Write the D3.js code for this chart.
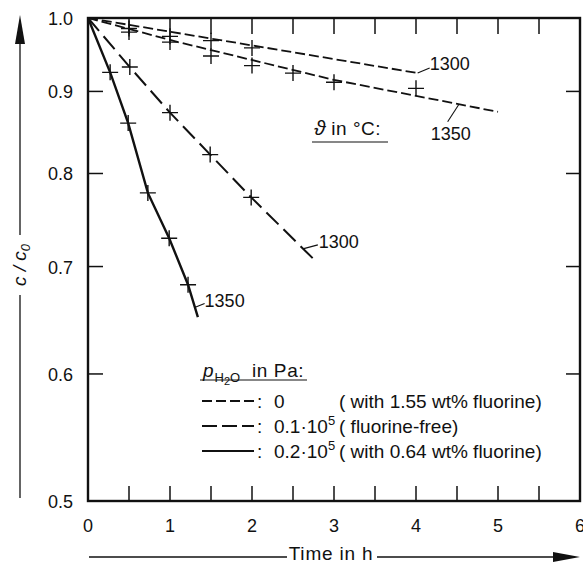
<!DOCTYPE html>
<html><head><meta charset="utf-8">
<script src="https://cdn.jsdelivr.net/npm/d3@7"></script>
<style>body{margin:0;background:#fff}svg{display:block}text{font-family:"Liberation Sans",Arial,sans-serif;fill:#111}</style>
</head><body><svg id="c" width="583" height="563"></svg>
<script>
// ---- data ----
const xTicks = [0,1,2,3,4,5,6];
const xMinorTicks = [0,0.5,1,1.5,2,2.5,3,3.5,4,4.5,5,5.5,6];
const yTicks = [0.5,0.6,0.7,0.8,0.9,1.0];
// p=0 (1.55 wt% F), 1300 °C
const dry1300Line = [[0,1.0],[4.02,0.924]];
const dry1300Pts  = [[0.5,0.985],[1,0.974],[1.5,0.968],[2,0.958]];
// p=0 (1.55 wt% F), 1350 °C
const dry1350Line = [[0,1.0],[1.1,0.966],[3,0.915],[5,0.874]];
const dry1350Pts  = [[0.5,0.980],[1,0.966],[1.5,0.947],[2,0.934],[2.5,0.924],[3,0.912],[4,0.904]];
// p=0.1e5 (fluorine-free), 1300 °C
const wet1Line = [[0,1.0],[0.51,0.932],[1.0,0.873],[1.49,0.822],[1.99,0.773],[2.77,0.706]];
const wet1Pts  = [[0.51,0.932],[1.0,0.873],[1.49,0.822],[1.99,0.773]];
// p=0.2e5 (0.64 wt% F), 1350 °C
const wet2Line = [[0,1.0],[0.27,0.925],[0.49,0.860],[0.73,0.778],[0.99,0.729],[1.22,0.682],[1.34,0.651]];
const wet2Pts  = [[0.27,0.925],[0.49,0.860],[0.73,0.778],[0.99,0.729],[1.22,0.682]];
const legendRows = [
  {dash:"10,4", w:1.8, val:"0", note:"( with 1.55 wt% fluorine)"},
  {dash:"15,5", w:1.8, val:"0.1·10", sup:"5", note:"( fluorine-free)"},
  {dash:null,   w:2.2, val:"0.2·10", sup:"5", note:"( with 0.64 wt% fluorine)"}
];

const svg = d3.select("#c");
const x = d3.scaleLinear([0,6],[88,580]);
const y = d3.scaleLog([0.5,1],[501,18]);
const line = d3.line().x(d=>x(d[0])).y(d=>y(d[1]));

// frame
svg.append("rect").attr("x",x(0)).attr("y",y(1)).attr("width",x(6)-x(0)).attr("height",y(0.5)-y(1))
  .attr("fill","none").attr("stroke","#111").attr("stroke-width",2.4);

// ticks inside
const g = svg.append("g").attr("stroke","#111").attr("stroke-width",1.5);
xMinorTicks.forEach(t=>{
  g.append("line").attr("x1",x(t)).attr("x2",x(t)).attr("y1",y(0.5)).attr("y2",y(0.5)-15);
  g.append("line").attr("x1",x(t)).attr("x2",x(t)).attr("y1",y(1)).attr("y2",y(1)+16);
});
yTicks.forEach(v=>{
  g.append("line").attr("x1",x(0)).attr("x2",x(0)+15).attr("y1",y(v)).attr("y2",y(v));
  g.append("line").attr("x1",x(6)).attr("x2",x(6)-14).attr("y1",y(v)).attr("y2",y(v));
});

// tick labels
xTicks.forEach(t=>svg.append("text").attr("x",x(t)).attr("y",532).attr("text-anchor","middle")
  .attr("font-size",18).text(t));
yTicks.forEach(v=>svg.append("text").attr("x",73).attr("y",y(v)+7).attr("text-anchor","end")
  .attr("font-size",18).text(v.toFixed(1)));

// series lines
function drawSeries(data, dash, w){
  svg.append("path").datum(data).attr("d",line).attr("fill","none").attr("stroke","#111")
    .attr("stroke-width",w).attr("stroke-dasharray",dash);
}
drawSeries(dry1300Line,"10,4",1.8);
drawSeries(dry1350Line,"10,4",1.8);
drawSeries(wet1Line,"17,7",2);
drawSeries(wet2Line,null,2.4);

// markers
function drawPts(pts){
  pts.forEach(p=>{
    const cx=x(p[0]), cy=y(p[1]);
    svg.append("path").attr("d",`M${cx-8},${cy}H${cx+8}M${cx},${cy-8}V${cy+8}`)
      .attr("stroke","#111").attr("stroke-width",1.4).attr("fill","none");
  });
}
[dry1300Pts,dry1350Pts,wet1Pts,wet2Pts].forEach(drawPts);

// curve labels with leader lines
function label(pt, lx2, ly2, tx, ty, txt){
  const px=x(pt[0]), py=y(pt[1]);
  svg.append("line").attr("x1",px).attr("y1",py).attr("x2",px+lx2).attr("y2",py+ly2)
    .attr("stroke","#111").attr("stroke-width",1.1);
  svg.append("text").attr("x",px+tx).attr("y",py+ty).attr("font-size",18).text(txt);
}
label(dry1300Line[1],12,-5,12,-3,"1300");
label([4.52,0.883],-11,17,-28,35,"1350");
label([2.62,0.718],15,-4,16,-1,"1300");
label([1.3,0.66],10,-4,10,-1,"1350");

// theta legend
const th = svg.append("text").attr("x",314).attr("y",135).attr("font-size",19);
th.append("tspan").attr("font-style","italic").attr("font-size",21).text("ϑ");
th.append("tspan").attr("letter-spacing",0.5).text(" in °C:");
svg.append("line").attr("x1",312).attr("x2",388).attr("y1",142).attr("y2",142).attr("stroke","#111").attr("stroke-width",1.2);

// pressure legend
const ph = svg.append("text").attr("x",203).attr("y",377).attr("font-size",19);
ph.append("tspan").attr("font-style","italic").text("p");
ph.append("tspan").attr("font-size",13).attr("dy",5).attr("dx",1).text("H");
ph.append("tspan").attr("font-size",11).attr("dy",3).text("2");
ph.append("tspan").attr("font-size",13).attr("dy",-3).text("O");
ph.append("tspan").attr("dy",-5).attr("x",252).attr("letter-spacing",0.6).text("in Pa:");
svg.append("line").attr("x1",200).attr("x2",307).attr("y1",380).attr("y2",380).attr("stroke","#111").attr("stroke-width",1.1);

legendRows.forEach((r,i)=>{
  const by = 408 + i*25;
  svg.append("line").attr("x1",202).attr("x2",254).attr("y1",by-7).attr("y2",by-7)
    .attr("stroke","#111").attr("stroke-width",r.w).attr("stroke-dasharray",r.dash);
  svg.append("text").attr("x",257).attr("y",by).attr("font-size",19).text(":");
  const t = svg.append("text").attr("x",274).attr("y",by).attr("font-size",19);
  t.append("tspan").text(r.val);
  if(r.sup) t.append("tspan").attr("font-size",13).attr("dy",-8).text(r.sup);
  svg.append("text").attr("x",339).attr("y",by).attr("font-size",19).text(r.note);
});

// y-axis title with arrow
svg.append("line").attr("x1",20).attr("x2",20).attr("y1",498).attr("y2",295).attr("stroke","#111").attr("stroke-width",1.3);
svg.append("line").attr("x1",20).attr("x2",20).attr("y1",235).attr("y2",40).attr("stroke","#111").attr("stroke-width",1.3);
svg.append("path").attr("d","M20,15L25,44L15,44Z").attr("fill","#111");
const yl = svg.append("text").attr("transform","translate(26,265) rotate(-90)").attr("text-anchor","middle")
  .attr("font-size",19).attr("font-style","italic");
yl.append("tspan").text("c / c");
yl.append("tspan").attr("font-size",13).attr("dy",4).text("0");

// x-axis title with arrow
svg.append("line").attr("x1",89).attr("x2",287).attr("y1",557).attr("y2",557).attr("stroke","#111").attr("stroke-width",1.3);
svg.append("line").attr("x1",377).attr("x2",560).attr("y1",557).attr("y2",557).attr("stroke","#111").attr("stroke-width",1.3);
svg.append("path").attr("d","M580,557L553,552L553,562Z").attr("fill","#111");
svg.append("text").attr("x",331).attr("y",560).attr("text-anchor","middle").attr("font-size",19)
  .attr("letter-spacing",0.8).text("Time in h");
</script></body></html>
